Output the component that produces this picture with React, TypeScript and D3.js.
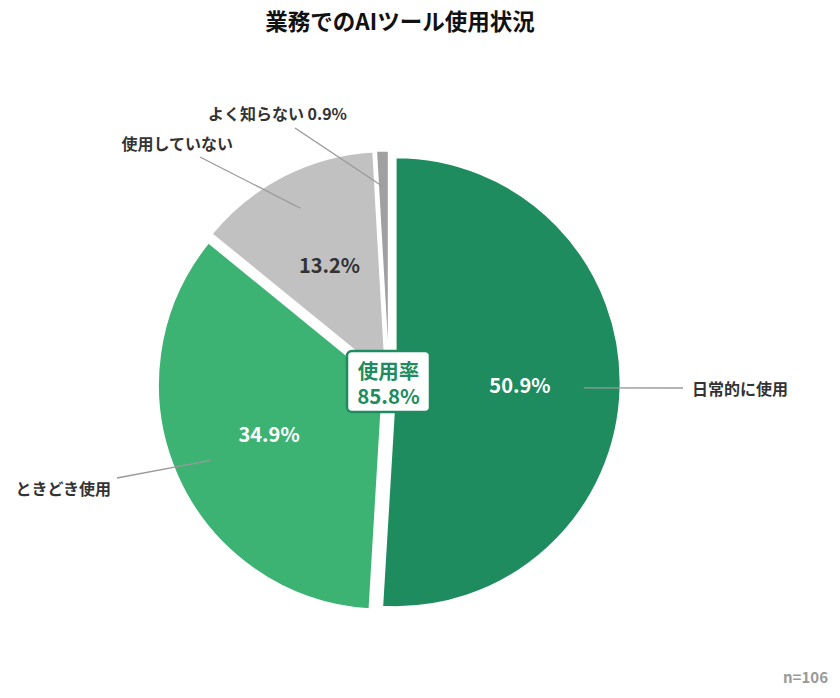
import React from "react";
import * as d3 from "d3";

const categories = ["日常的に使用", "ときどき使用", "使用していない", "よく知らない"];
const values = [50.9, 34.9, 13.2, 0.9];
const colors = ["#1e8c5e", "#3db373", "#c1c1c1", "#a0a0a0"];
const valueLabelColors = ["#ffffff", "#ffffff", "#333333", null];
const title = "業務でのAIツール使用状況";
const centerTitle = "使用率";
const centerValue = "85.8%";
const sampleNote = "n=106";

// layout (not data)
const W = 840;
const H = 698;
const CX = 389;
const CY = 382;
const R = 225;
const EXPLODE = 6.6;
const labelEnds: [number, number, string][] = [
  [683, 388, "start"],
  [117, 478, "end"],
  [200, 157, "end"],
  [295, 128, "end"],
];
const labelText: [number, number][] = [
  [692, 389],
  [111, 489],
  [233, 144],
  [347, 114],
];

const FONT = "'Noto Sans CJK JP', 'Noto Sans', sans-serif";

export default function App() {
  const pie = d3.pie<number>().sort(null).value((d) => d);
  const arcs = pie(values);
  const arc = d3.arc<d3.PieArcDatum<number>>().innerRadius(0).outerRadius(R);

  const polar = (a: number, r: number): [number, number] => [
    Math.sin(a) * r,
    -Math.cos(a) * r,
  ];

  return (
    <svg width={W} height={H} style={{ display: "block", position: "absolute", left: 0, top: 0 }} fontFamily={FONT}>
      <rect width={W} height={H} fill="#ffffff" />
      <text x={400} y={30} textAnchor="middle" fontSize={22.5} fontWeight={700} fill="#111">
        {title}
      </text>
      <g transform={`translate(${CX},${CY})`}>
        {arcs.map((a, i) => {
          const mid = (a.startAngle + a.endAngle) / 2;
          const [ox, oy] = polar(mid, EXPLODE);
          return (
            <path
              key={i}
              d={arc(a) || ""}
              transform={`translate(${ox},${oy})`}
              fill={colors[i]}
              stroke="#ffffff"
              strokeWidth={2}
              strokeLinejoin="round"
            />
          );
        })}
        {arcs.map((a, i) => {
          const mid = (a.startAngle + a.endAngle) / 2;
          const [sx, sy] = polar(mid, 195);
          const [ex, ey] = labelEnds[i];
          return (
            <line
              key={"l" + i}
              x1={sx}
              y1={sy}
              x2={ex - CX}
              y2={ey - CY}
              stroke="#999999"
              strokeWidth={1.3}
            />
          );
        })}
        {arcs.map((a, i) => {
          const c = valueLabelColors[i];
          if (!c) return null;
          const mid = (a.startAngle + a.endAngle) / 2;
          const [lx, ly] = polar(mid, 131);
          return (
            <text
              key={"v" + i}
              x={lx}
              y={ly}
              dy="0.36em"
              textAnchor="middle"
              fontSize={20}
              fontWeight={700}
              fill={c}
            >
              {values[i].toFixed(1)}%
            </text>
          );
        })}
      </g>
      {categories.map((c, i) => (
        <text
          key={"c" + i}
          x={labelText[i][0]}
          y={labelText[i][1]}
          dy="0.36em"
          textAnchor={labelEnds[i][2]}
          fontSize={16}
          fontWeight={700}
          fill="#333333"
        >
          {i === 3 ? `${c} ${values[i].toFixed(1)}%` : c}
        </text>
      ))}
      <rect x={347} y={351} width={83} height={61} rx={5} fill="#ffffff" stroke="#1e8c5e" strokeWidth={2.5} />
      <text textAnchor="middle" fontSize={20.5} fontWeight={700} fill="#1e8c5e">
        <tspan x={388.5} y={378.5}>{centerTitle}</tspan>
        <tspan x={388.5} y={403.5}>{centerValue}</tspan>
      </text>
      <text x={828} y={678} dy="0.36em" textAnchor="end" fontSize={15} fontWeight={700} fill="#999999">
        {sampleNote}
      </text>
    </svg>
  );
}
